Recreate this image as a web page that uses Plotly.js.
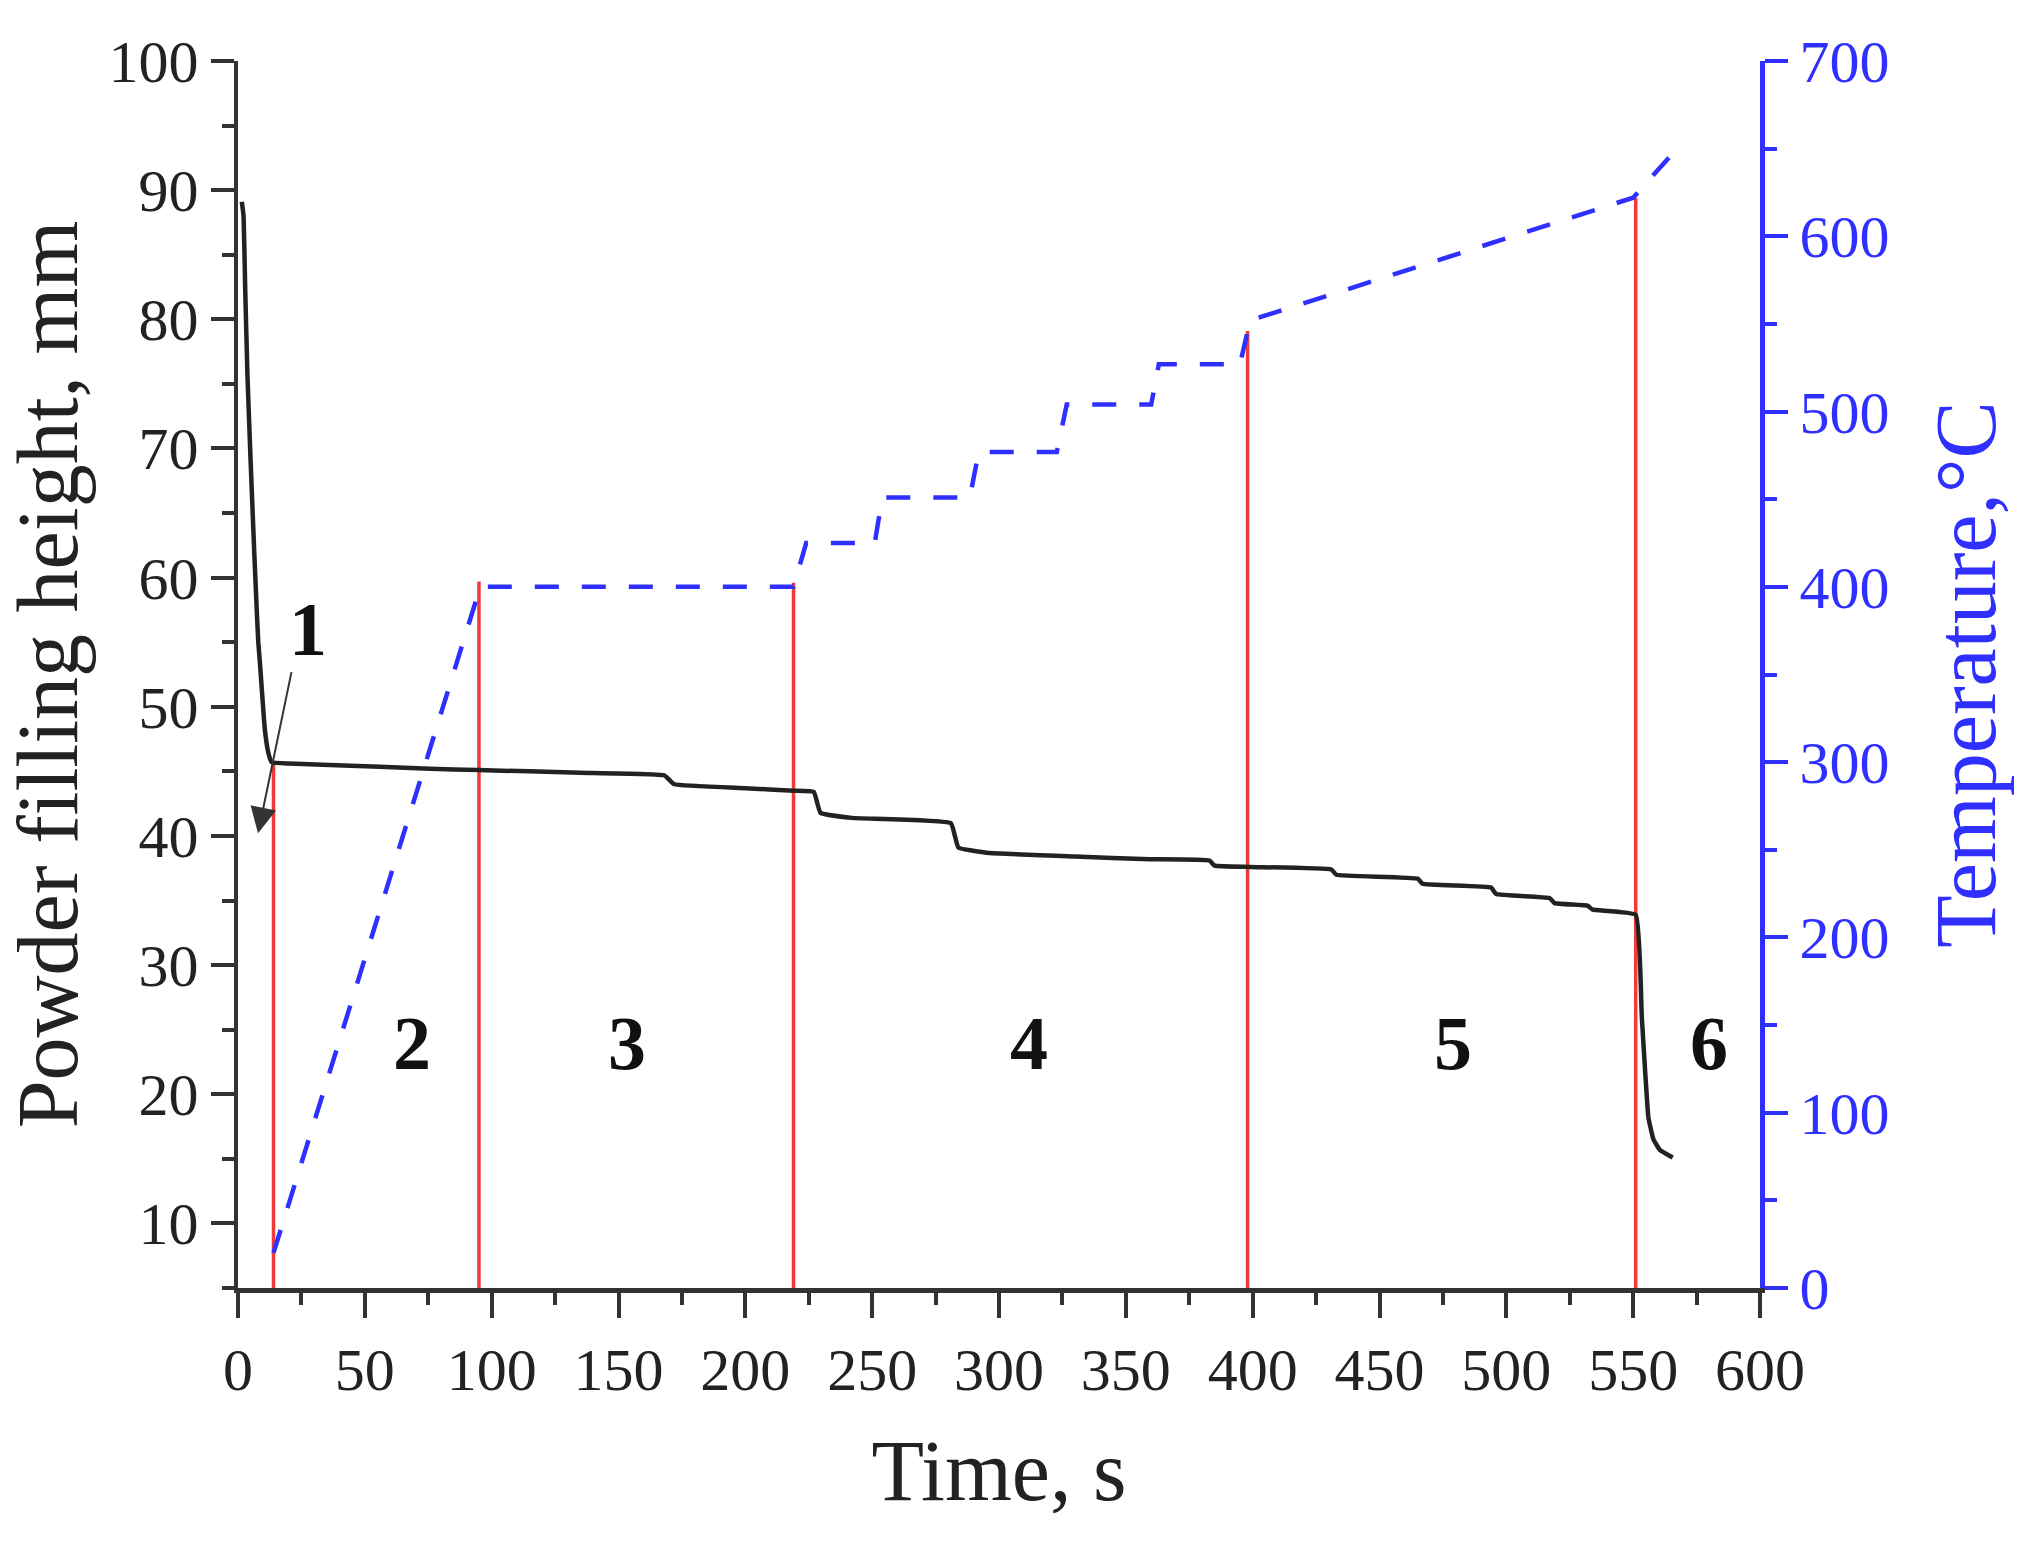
<!DOCTYPE html>
<html>
<head>
<meta charset="utf-8">
<script src="https://cdn.plot.ly/plotly-3.0.1.min.js"></script>
<style>
  html, body { margin: 0; padding: 0; background: #fff; }
  #chart { width: 2035px; height: 1543px; }
</style>
</head>
<body>
<div id="chart"></div>
<script>
// powder filling height (mm) vs time (s)
const heightTime = [1.5, 2.2, 2.8, 3.7, 5.0, 6.4, 7.5, 8.0, 8.6, 9.3, 10.6, 12.0, 13.3, 20, 36, 75.7, 94.6, 135, 168, 172, 200, 219, 227, 229.6, 242, 281, 284, 295, 330, 359.5, 383, 385, 399, 431, 433, 465, 467, 494, 496, 517, 519, 532, 534, 551, 553.4, 556, 558, 560.5, 565.6];
const heightValue = [89.1, 88.0, 82.7, 75.8, 68.9, 62.0, 57.0, 55.0, 53.5, 51.6, 48.2, 46.4, 45.7, 45.6, 45.5, 45.2, 45.1, 44.9, 44.7, 44.0, 43.7, 43.5, 43.4, 41.8, 41.4, 41.0, 39.1, 38.7, 38.4, 38.2, 38.1, 37.7, 37.6, 37.4, 37.0, 36.7, 36.3, 36.0, 35.5, 35.2, 34.8, 34.6, 34.3, 33.9, 26.0, 18.2, 16.5, 15.7, 15.1];

// furnace temperature (°C) vs time (s)
const tempTime = [14, 95, 95.5, 219, 224, 251, 254, 288.5, 292, 322.8, 326.7, 360, 363, 395, 399, 550, 566];
const tempValue = [20, 398, 400, 400, 425, 425, 451, 451, 477, 477, 504, 504, 527, 527, 552, 622, 648];

// stage boundaries (red lines), top given in mm on the left axis
const boundaryTime = [14, 95, 219, 398, 551];
const boundaryTop = [45.6, 59.7, 59.6, 79.1, 89.4];

// stage numbers
const stageLabels = ["2", "3", "4", "5", "6"];
const stageLabelTime = [68.6, 153.4, 312, 479, 580];
const stageLabelHeight = [24, 24, 24, 24, 24];

const serif = "Liberation Serif, Times New Roman, serif";
const blue = "#2f2fff";
const axisGray = "#333333";

let redX = [], redY = [];
boundaryTime.forEach(function (t, i) {
    redX.push(t, t, null);
    redY.push(5, boundaryTop[i], null);
});

const traces = [
    { x: redX, y: redY, mode: "lines", line: { color: "#f03a3a", width: 3.5 }, hoverinfo: "skip" },
    { x: heightTime, y: heightValue, mode: "lines", line: { color: "#222222", width: 4.5, shape: "spline", smoothing: 0.3 } },
    { x: tempTime, y: tempValue, yaxis: "y2", mode: "lines", line: { color: blue, width: 4.5, dash: "24px,23px" } }
];

const annotations = stageLabels.map(function (txt, i) {
    return { x: stageLabelTime[i], y: stageLabelHeight[i], xref: "x", yref: "y", text: "<b>" + txt + "</b>",
        showarrow: false, font: { family: serif, size: 76, color: "#111" } };
});
annotations.push({ x: 27.5, y: 56, xref: "x", yref: "y", text: "<b>1</b>", showarrow: false,
    font: { family: serif, size: 76, color: "#111" } });
annotations.push({ x: 7.9, y: 40.2, ax: 21.2, ay: 52.8, axref: "x", ayref: "y", xref: "x", yref: "y",
    text: "", showarrow: true, arrowhead: 2, arrowsize: 2.6, arrowwidth: 2, arrowcolor: "#333" });

const layout = {
    width: 2035, height: 1543,
    margin: { l: 238, r: 275, t: 61, b: 255 },
    paper_bgcolor: "#fff", plot_bgcolor: "#fff",
    showlegend: false,
    font: { family: serif, color: "#222" },
    xaxis: {
        range: [0, 600], dtick: 50, tick0: 0,
        showgrid: false, zeroline: false,
        showline: true, linecolor: axisGray, linewidth: 4.5,
        ticks: "outside", ticklen: 25, tickwidth: 4, tickcolor: axisGray,
        minor: { dtick: 25, ticks: "outside", ticklen: 12, tickwidth: 4, tickcolor: axisGray },
        tickfont: { family: serif, size: 60, color: "#222" },
        title: { text: "Time, s", font: { family: serif, size: 86, color: "#222" }, standoff: 40 }
    },
    yaxis: {
        range: [5, 100], dtick: 10, tick0: 0,
        showgrid: false, zeroline: false,
        showline: true, linecolor: axisGray, linewidth: 4.5,
        ticks: "outside", ticklen: 23, tickwidth: 4, tickcolor: axisGray,
        minor: { dtick: 5, ticks: "outside", ticklen: 12, tickwidth: 4, tickcolor: axisGray },
        tickfont: { family: serif, size: 60, color: "#222" },
        title: { text: "Powder filling height, mm", font: { family: serif, size: 86, color: "#222" }, standoff: 30 }
    },
    yaxis2: {
        overlaying: "y", side: "right",
        range: [0, 700], dtick: 100, tick0: 0,
        showgrid: false, zeroline: false,
        showline: true, linecolor: blue, linewidth: 4.5,
        ticks: "outside", ticklen: 23, tickwidth: 4, tickcolor: blue,
        minor: { dtick: 50, ticks: "outside", ticklen: 12, tickwidth: 4, tickcolor: blue },
        tickfont: { family: serif, size: 60, color: blue },
        title: { text: "Temperature,°C", font: { family: serif, size: 86, color: blue }, standoff: 48 }
    },
    annotations: annotations
};

Plotly.newPlot("chart", traces, layout, { staticPlot: true });
</script>
</body>
</html>
